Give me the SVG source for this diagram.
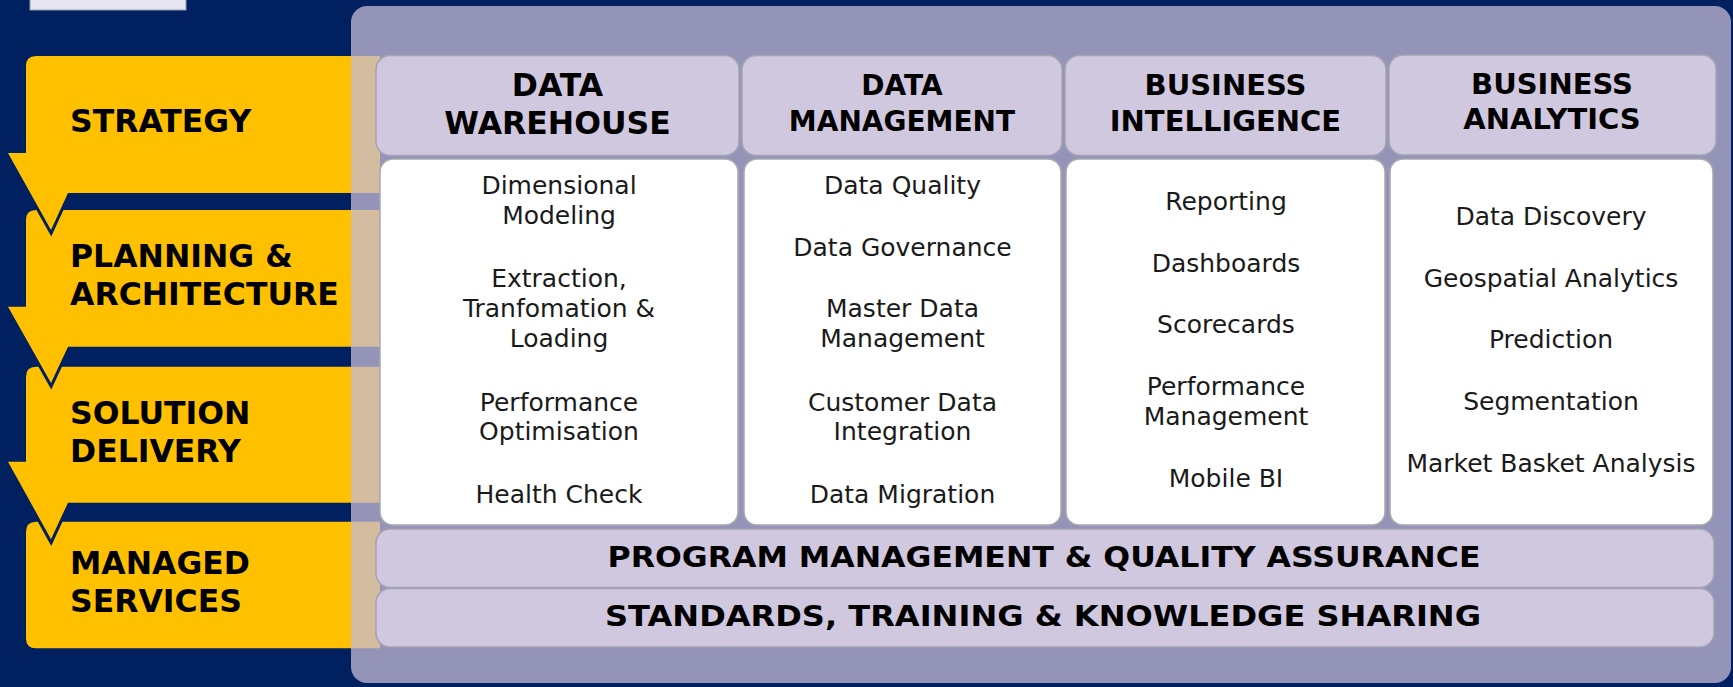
<svg xmlns="http://www.w3.org/2000/svg" width="1733" height="687" viewBox="0 0 1733 687">
<style>
.lbl{font-family:"DejaVu Sans","Liberation Sans",sans-serif;font-weight:bold;font-size:31.5px;fill:#000}
.hd{font-family:"DejaVu Sans","Liberation Sans",sans-serif;font-weight:bold;fill:#000;text-anchor:middle}
.bd{font-family:"DejaVu Sans","Liberation Sans",sans-serif;font-size:25px;fill:#1a1a1a;text-anchor:middle}
.yel{fill:#FFC000}
.yelo{fill:none;stroke:#002060;stroke-width:6;stroke-linejoin:miter}
.head{fill:#D0C8DE;stroke:#A3A3B3;stroke-width:1.5}
.body{fill:#FFFFFF;stroke:#A8A8B0;stroke-width:1.5}
.bar{fill:#D0C8DE;stroke:#A3A3B3;stroke-width:1.5}
</style>
<rect x="0" y="0" width="1733" height="687" fill="#002060"/>
<rect id="topbox" x="30" y="-6" width="156" height="16" fill="#E6E6F2" stroke="#9A9AB4" stroke-width="1"/>

<g id="phases">
  <g id="managed">
    <path class="yel" d="M36,521.7 H380 V648.3 H36 Q26,648.3 26,638.3 V531.7 Q26,521.7 36,521.7 Z"/>
  </g>
  <g id="solution">
    <path class="yelo" d="M36,366.7 H380 V502.7 H68 L51,539.3 L8,461.7 H26 V376.7 Q26,366.7 36,366.7 Z"/>
    <path class="yel" d="M36,366.7 H380 V502.7 H68 L51,539.3 L8,461.7 H26 V376.7 Q26,366.7 36,366.7 Z"/>
  </g>
  <g id="planning">
    <path class="yelo" d="M36,210 H380 V346.7 H68 L51,383 L8,306.7 H26 V220 Q26,210 36,210 Z"/>
    <path class="yel" d="M36,210 H380 V346.7 H68 L51,383 L8,306.7 H26 V220 Q26,210 36,210 Z"/>
  </g>
  <g id="strategy">
    <path class="yelo" d="M36,56 H380 V193 H68 L51,230 L8,153 H26 V66 Q26,56 36,56 Z"/>
    <path class="yel" d="M36,56 H380 V193 H68 L51,230 L8,153 H26 V66 Q26,56 36,56 Z"/>
  </g>
</g>

<rect id="panel" x="351" y="6" width="1380" height="677" rx="16" fill="rgb(197,186,213)" fill-opacity="0.753"/>

<g id="phase-labels">
  <text class="lbl" x="70" y="132">STRATEGY</text>
  <text class="lbl" x="70" y="267.3">PLANNING &amp;</text>
  <text class="lbl" x="70" y="305">ARCHITECTURE</text>
  <text class="lbl" x="70" y="424">SOLUTION</text>
  <text class="lbl" x="70" y="461.7">DELIVERY</text>
  <text class="lbl" x="70" y="574">MANAGED</text>
  <text class="lbl" x="70" y="611.7">SERVICES</text>
</g>

<g id="col-dw">
  <rect class="head" x="376" y="55.5" width="363" height="100" rx="14"/>
  <text class="hd" font-size="31.5" x="557.5" y="96">DATA</text>
  <text class="hd" font-size="31.5" x="557.5" y="134">WAREHOUSE</text>
  <rect class="body" x="380" y="159" width="358" height="366" rx="13"/>
  <text class="bd" x="559" y="194.3">Dimensional</text>
  <text class="bd" x="559" y="224">Modeling</text>
  <text class="bd" x="559" y="287.3">Extraction,</text>
  <text class="bd" x="559" y="316.7">Tranfomation &amp;</text>
  <text class="bd" x="559" y="347">Loading</text>
  <text class="bd" x="559" y="410.7">Performance</text>
  <text class="bd" x="559" y="440">Optimisation</text>
  <text class="bd" x="559" y="503.3">Health Check</text>
</g>

<g id="col-dm">
  <rect class="head" x="742" y="55.5" width="320" height="100" rx="14"/>
  <text class="hd" font-size="28" x="902" y="95">DATA</text>
  <text class="hd" font-size="28" x="902" y="131">MANAGEMENT</text>
  <rect class="body" x="744" y="159" width="317" height="366" rx="13"/>
  <text class="bd" x="902.5" y="194.3">Data Quality</text>
  <text class="bd" x="902.5" y="256">Data Governance</text>
  <text class="bd" x="902.5" y="316.7">Master Data</text>
  <text class="bd" x="902.5" y="347">Management</text>
  <text class="bd" x="902.5" y="410.7">Customer Data</text>
  <text class="bd" x="902.5" y="440">Integration</text>
  <text class="bd" x="902.5" y="503.3">Data Migration</text>
</g>

<g id="col-bi">
  <rect class="head" x="1065" y="55.5" width="321" height="100" rx="14"/>
  <text class="hd" font-size="29" x="1225.5" y="95">BUSINESS</text>
  <text class="hd" font-size="29" x="1225.5" y="131">INTELLIGENCE</text>
  <rect class="body" x="1066" y="159" width="319" height="366" rx="13"/>
  <text class="bd" x="1226" y="210">Reporting</text>
  <text class="bd" x="1226" y="271.7">Dashboards</text>
  <text class="bd" x="1226" y="333.3">Scorecards</text>
  <text class="bd" x="1226" y="395">Performance</text>
  <text class="bd" x="1226" y="425.3">Management</text>
  <text class="bd" x="1226" y="487.3">Mobile BI</text>
</g>

<g id="col-ba">
  <rect class="head" x="1389" y="55" width="327" height="100" rx="14"/>
  <text class="hd" font-size="29" x="1552" y="94">BUSINESS</text>
  <text class="hd" font-size="29" x="1552" y="129">ANALYTICS</text>
  <rect class="body" x="1390" y="159" width="323" height="366" rx="13"/>
  <text class="bd" x="1551" y="225">Data Discovery</text>
  <text class="bd" x="1551" y="287.3">Geospatial Analytics</text>
  <text class="bd" x="1551" y="348.3">Prediction</text>
  <text class="bd" x="1551" y="410">Segmentation</text>
  <text class="bd" x="1551" y="471.7">Market Basket Analysis</text>
</g>

<g id="bar-pm">
  <rect class="bar" x="376" y="529" width="1338" height="58.5" rx="14"/>
  <text class="hd" font-size="29" x="1044" y="567.3" textLength="873" lengthAdjust="spacingAndGlyphs">PROGRAM MANAGEMENT &amp; QUALITY ASSURANCE</text>
</g>
<g id="bar-st">
  <rect class="bar" x="376" y="588.5" width="1338" height="58.5" rx="14"/>
  <text class="hd" font-size="29" x="1043" y="626" textLength="876" lengthAdjust="spacingAndGlyphs">STANDARDS, TRAINING &amp; KNOWLEDGE SHARING</text>
</g>
<g id="connectors"/>
</svg>
